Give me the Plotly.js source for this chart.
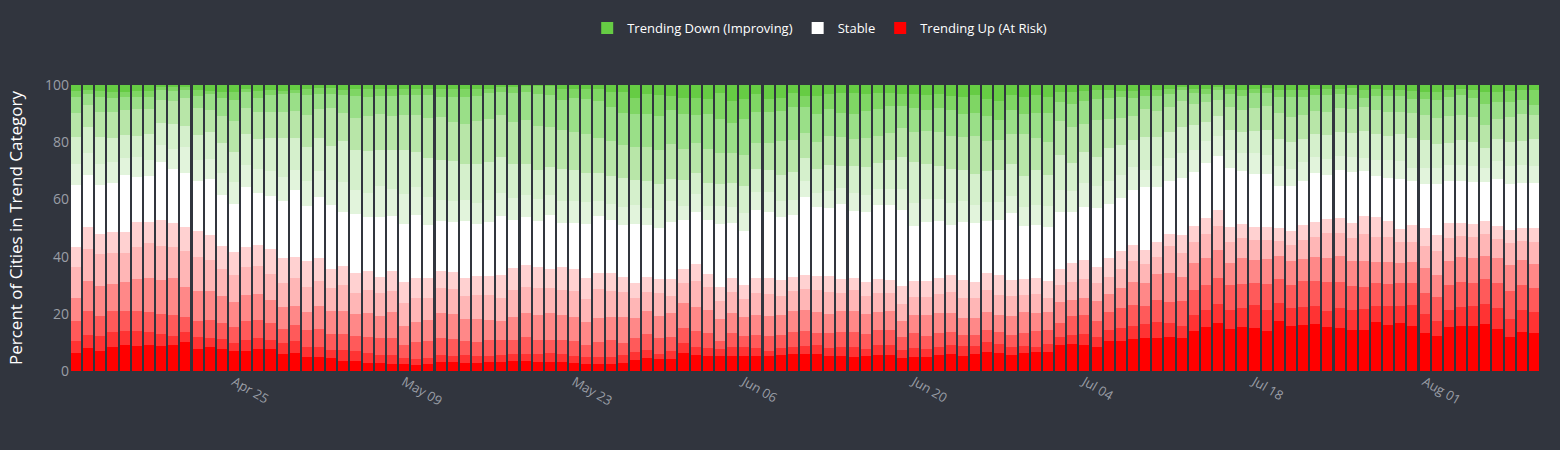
<!DOCTYPE html>
<html>
<head>
<meta charset="utf-8">
<script src="https://cdn.plot.ly/plotly-3.0.1.min.js"></script>
<style>html,body{margin:0;padding:0;background:#31353e;}#chart{width:1560px;height:450px;}</style>
</head>
<body>
<div id="chart"></div>
<script>
// Daily bars, first day and count
const startDate = '2021-04-12';
const dayCount = 121;

// Cumulative percent at the top of each band, bottom to top
const topUp1 = [6.3,8.1,7,8.4,9.1,8.8,9.1,8.8,9.1,10.2, 7.7,8.4,7.7,7,7,7.7,7.7,6,6.3,4.9, 4.9,4.6,3.5,3.5,2.8,2.8,2.5,2.5,2.1,2.5, 3.2,3.2,2.8,2.8,3.2,3.2,3.5,3.5,3.2,3.2, 3.2,2.8,2.5,2.5,2.5,2.8,3.9,4.6,4.2,4.2, 6.3,5.6,5.3,5.3,5.3,5.3,5.3,5.3,5.6,6, 6,6,5.3,5.3,4.9,5.3,5.6,5.6,4.6,4.9, 4.9,5.6,6,5.3,6,6.7,6.3,5.6,6.3,6.7, 6.7,9.1,9.5,9.1,8.4,10.5,10.5,11.2,11.6,11.6, 11.9,11.6,14,15.4,16.8,14.7,15.4,15.1,14,17.5, 15.8,16.1,16.5,15.4,15.1,14.4,14.4,17.2,16.1,16.8, 15.8,13.3,12.3,15.4,15.8,15.8,16.5,14.7,11.9,13.7,13.3];
const topUp2 = [10.5,12.6,12.3,13.7,14,14,13.7,13,12.3,13.7, 11.9,11.6,11.2,9.8,10.9,11.6,10.9,9.8,10.5,8.4, 8.4,7.4,7.4,7,6.3,5.6,5.6,4.6,4.2,4.6, 5.6,5.3,5.6,5.3,5.3,5.6,6,6,6,6.3, 6,5.3,4.9,4.9,4.9,5.6,6.7,7.4,6,7, 9.8,8.4,8.1,7.7,8.4,8.4,8.1,7,8.1,8.4, 8.8,9.1,8.1,8.4,8.4,7.7,9.1,9.1,7.4,8.1, 7.7,8.4,9.1,8.8,8.8,10.2,9.5,8.4,8.8,8.4, 9.5,11.9,12.6,13,11.9,14.4,15.1,15.8,16.5,17.2, 16.8,15.8,19.6,21.4,23.5,21.4,22.1,23.1,21.4,23.8, 22.1,22.4,22.8,21,22.1,21.4,21.7,22.8,22.8,22.8, 23.1,20,17.5,21.4,22.4,22.8,23.5,22.1,18.2,21.4,20.7];
const topUp3 = [17.5,21,19.3,21,21,21,20.7,20,19.6,18.9, 17.5,17.9,16.8,15.4,17.5,17.9,16.8,14.7,16.1,14.4, 14.7,13,13,12.3,11.9,11.6,11.6,9.1,10.2,10.5, 11.6,11.2,10.5,10.2,10.9,10.9,10.9,11.9,10.9,10.9, 10.9,10.5,9.1,10.2,10.9,9.8,11.6,13,11.6,11.9, 15.1,14,13.3,10.5,13.3,12.3,12.6,12.3,12.6,13.7, 14,13.3,13.3,13.7,13.7,13,14.4,14.4,11.9,13.3, 12.3,13.3,13.7,12.6,12.6,14.4,13.7,12.6,13.3,14, 14.4,16.8,19.3,19.6,17.5,20.7,22.1,23.1,22.8,24.9, 24.2,24.5,28.4,30.1,32.6,30.1,30.5,30.8,30.5,32.2, 30.1,31.5,31.5,31.2,31.2,29.8,29.4,30.8,30.5,30.8, 30.8,27.3,25.9,30.1,31.2,30.8,32.2,30.8,28,30.1,29.1];
const topUp4 = [25.6,31.5,29.8,30.5,31.2,32.2,32.6,31.9,32.6,29.4, 28,28,26.3,24.2,26.6,27,24.9,22.4,22.8,20.7, 22.8,21,21,20,20.3,19.3,20.7,15.8,17.2,17.9, 20.3,20,18.2,18.2,17.9,17.5,18.9,20.3,19.6,20.3, 19.6,18.9,17.2,18.6,18.9,18.9,18.6,21,19.3,20.3, 23.8,22.4,21.4,18.2,20.3,18.9,19.6,19.3,19.6,21, 21.4,20.7,20,21,21,20,20.7,21,17.5,19.6, 19.6,20.3,20.3,18.6,18.6,20.7,19.6,19.3,20.7,20.3, 20.7,24.2,24.9,25.6,24.5,27,29.1,31.2,30.8,34, 34.3,32.9,37.8,39.6,42.4,37.8,39.6,38.9,39.2,40.3, 38.5,39.2,39.9,39.6,40.3,38.5,38.5,38.2,38.2,37.8, 38.2,36.1,33.6,38.5,39.9,39.6,40.3,39.6,37.1,38.9,37.5];
const topUp5 = [36.4,42.7,41,41.3,41.3,43.4,44.8,43.8,43.4,42, 39.9,38.9,35.7,33.6,36.4,36.8,34,30.8,32.6,29.4, 31.5,29.1,30.1,27.3,28.4,27.3,28,23.8,25.6,25.6, 29.1,28.7,26.3,26.6,26.6,25.6,28.4,29.4,29.1,29.1, 28.4,28,25.2,28.7,28,27.7,25.6,27.7,27.3,26.3, 30.8,31.5,29.4,24.5,27.7,25.2,27.3,27,26.3,28, 28.7,28.4,27.7,27.3,28.4,26.3,27.3,27.3,23.5,25.9, 25.9,27,27.7,25.6,25.6,28.4,26.6,26.3,26.6,27, 25.6,30.1,31.2,32.2,30.8,32.9,35.7,38.5,37.5,39.9, 43.8,41.3,45.2,48,50.8,45.2,46.6,45.9,45.9,45.5, 44.1,45.9,46.9,48.3,48.3,46.6,48,46.9,46.9,45.2, 45.2,43.8,42,46.6,47.3,46.9,48,46.2,44.8,45.5,45.2];
const topUp6 = [43.4,50.4,48,48.7,48.7,52.2,52.2,52.9,51.8,50.4, 49,47.6,43.8,41.7,43.4,44.1,42.7,39.6,39.9,38.5, 39.6,35.7,36.8,34.3,35,32.9,35,31.2,32.6,32.6, 35,34.7,32.6,33.3,33.3,33.6,36.1,37.1,36.4,35.7, 36.4,35.7,32.6,34.3,34.3,32.9,30.8,32.9,32.2,32.2, 35.7,37.5,34,29.4,32.6,30.1,32.6,32.6,31.9,32.9, 33.6,33.3,33.3,32.2,32.6,31.2,32.2,31.9,29.8,31.5, 31.5,32.6,33.6,31.9,31.2,34.3,33.6,31.9,32.2,32.6, 31.5,35.7,37.8,38.9,36.4,39.6,42,44.1,42.4,45.2, 48,47.6,50.8,53.6,56.4,50.4,51.5,50.4,50.4,50.1, 49,51.1,52.2,53.2,53.6,51.8,54.3,53.9,52.5,49.7, 51.1,50.1,47.6,51.8,51.8,51.5,52.5,50.8,49.4,50.1,50.1];
const topStable = [65.1,68.6,65.1,65.8,68.6,67.9,68.3,73.2,70.7,69.3, 66.5,67.2,61.6,58.5,64.4,62.3,61.3,59.5,63.4,57.8, 60.9,58.1,55.7,55,53.9,53.9,54.3,51.5,54.6,51.1, 52.5,52.2,52.5,51.5,52.2,54.3,52.9,53.9,52.5,54.6, 51.8,51.8,51.5,54.3,52.9,51.1,51.5,51.1,50.1,52.2, 52.9,55.7,52.9,51.5,51.8,49,56.4,55.7,53.9,54.6, 60.9,57.4,57.1,58.5,56,55.7,58.1,58.1,56.4,50.8, 52.2,52.5,51.1,52.2,51.8,52.5,52.9,55.3,50.8,51.1, 50.4,55.7,55.7,57.4,57.1,58.5,60.6,63.4,64.4,64.4, 66.5,67.6,69.7,72.8,75.3,71.1,70,69,69,64.8, 64.8,66.5,69.3,68.6,70.4,69.7,70,68.3,67.6,67.2, 66.5,65.5,65.5,66.5,66.5,66.2,66.2,67.2,65.5,65.8,65.8];
const topDown1 = [72.5,76.3,72.5,73.2,74.6,74.9,73.9,79.1,77.7,78.4, 73.9,74.2,69.3,66.2,72.1,70.7,70,67.9,70.4,66.5, 70,66.9,66.2,63.4,62.3,64.8,63.7,62,64.4,60.9, 59.9,59.5,59.9,58.8,59.9,62.3,60.6,61.6,60.2,61.6, 59.5,59.5,59.2,59.5,58.5,57.4,58.1,57.1,56.4,59.5, 57.8,62,57.8,57.8,57.4,55.3,62.7,62.7,59.5,59.9, 66.5,62.3,63,64.1,62.3,61.6,63.7,63.7,63.7,58.8, 60.2,60.2,58.8,59.5,58.1,59.2,59.2,61.3,57.4,58.1, 57.8,63.4,63,65.8,64.8,66.5,68.6,71.4,70.4,71.8, 74.6,76.3,77.4,80.5,82.3,77.4,76.3,76.3,75.6,71.8, 70.7,73.2,74.9,74.2,75.3,74.9,74.6,73.9,73.9,73.5, 71.1,71.1,71.1,72.1,72.1,71.8,71.1,73.5,71.8,72.1,71.8];
const topDown2 = [81.9,85.4,81.9,81.6,82.6,82.3,83,86.8,86.5,85.8, 82.6,83.7,79.8,76.7,83,81.2,81.6,81.6,81.6,78.4, 81.6,78.8,80.5,77.4,77,77.4,77.4,77.4,76.7,74.6, 73.9,73.5,72.5,72.5,73.2,74.9,72.5,72.5,70.4,71.4, 70.7,70.4,69.3,69.3,68.3,67.6,66.9,66.5,65.5,67.2, 66.9,69.3,65.8,65.5,65.8,64.8,70.7,70.4,68.6,69.7, 74.6,70.7,72.1,71.8,71.8,71.4,72.8,73.9,74.9,73.2, 72.5,71.8,70.7,70.4,69,70,70.4,72.5,68.3,70.4, 68.6,75.6,72.8,76.7,74.9,78.1,79.1,80.9,81.9,81.9, 83.7,85.4,86.1,87.2,89.3,84.4,83.7,84,84.4,81.2, 80.2,81.2,83,82.6,83.7,83.3,84,83,82.3,83, 81.6,80.9,79.5,79.8,80.9,80.2,78.1,81.2,80.2,80.5,81.2];
const topDown3 = [90.3,93.1,90.7,90.7,91.4,91.7,91.7,94.9,94.5,95.6, 92.1,91.4,89.3,87.5,92.1,90.7,90.7,90.7,91,89.6, 91.7,92.1,90.3,88.6,89.3,90,89.3,89.6,89.6,88.6, 88.9,87.2,86.5,87.5,88.2,89.6,87.2,87.9,85.8,85.4, 84.4,83.7,83,81.6,80.5,79.1,78.4,78.4,77.4,79.5, 77.7,79.8,77.7,76.3,76.3,75.6,79.8,79.8,80.5,80.9, 83.3,80.2,82.3,81.9,81.2,81.6,82.3,83.3,85.1,83.7, 84,83.7,82.3,81.9,82.3,80.5,80.9,83,83,81.6, 80.2,87.5,85.4,86.5,87.9,88.2,88.6,89.3,91.7,91, 92.4,94.5,93.5,94.2,94.9,92.4,91.4,92.1,92.8,90.3, 88.9,89.6,91,90.7,92.1,91.7,92.4,91.4,90.7,90.7, 90.3,89.6,88.6,89.3,89.6,88.9,86.1,88.2,88.9,90,89.6];
const topDown4 = [95.9,97,95.9,95.6,95.9,95.9,95.9,98.4,98,98.4, 96.3,97,95.6,94.9,97.7,95.6,96.6,97,97.3,96.6, 97,97,96.6,96.3,95.9,96.3,96.3,96.6,96.6,96.6, 95.9,95.9,95.9,96.3,97.3,97.7,97.3,97.7,97,96.6, 94.9,95.6,95.2,94.5,92.4,90.3,90,90,89.3,91.4, 90,89.6,90,88.2,86.8,88.2,90.7,90.7,91,92.4, 92.4,90,91.7,90.3,90,91,91.7,92.8,92.8,92.1, 91.4,92.1,91.4,90,90.3,89.3,87.9,91.4,90,90.3, 90.3,94.2,93.5,94.5,95.2,95.6,95.9,95.6,96.3,96.3, 97,98.4,97.3,97,98.4,97,96.3,97.3,97.3,95.9, 95.9,95.9,96.6,96.6,97,96.6,95.6,96.3,96.3,96.3, 95.2,95.2,94.9,95.9,96.6,95.6,93.5,94.2,94.2,94.9,93.1];
const topDown5 = [98,98.4,98,97.7,97.7,98,98,99.4,99.4,99.4, 98.4,98,97.7,97.7,98.7,98,98.4,98,98.4,98.7, 99.1,99.1,98.4,98.7,98.7,98.7,98.7,98.7,98.7,98.7, 98.7,98.7,98.7,98.7,98.7,99.4,99.4,99.8,99.8,99.8, 98.7,98.7,98.7,98.7,97.7,97.7,95.6,97,96.6,96.3, 95.6,95.6,95.2,97.3,94.5,95.2,97,95.2,95.6,97.3, 96.3,96.3,97,97.3,97.3,97,97.3,97.3,97,97, 96.6,97,96.3,95.9,96.6,95.2,94.5,96.6,95.9,96.6, 95.9,97.7,97.7,98,98.4,98.4,98,98,98.4,98.4, 98.7,99.4,98.7,98.7,99.4,98.7,98.4,98.7,99.1,98.4, 98.4,98.4,98.7,98.7,98.7,99.1,98.4,98.7,98.4,98.4, 98,97.7,97.7,98.4,98.7,98.4,97.7,97.7,98,98.4,98.4];
const totalPct = 100;

const bandNames = ['Trending Up (At Risk)','Trending Up (At Risk)','Trending Up (At Risk)','Trending Up (At Risk)','Trending Up (At Risk)','Trending Up (At Risk)','Stable','Trending Down (Improving)','Trending Down (Improving)','Trending Down (Improving)','Trending Down (Improving)','Trending Down (Improving)','Trending Down (Improving)'];

const bandColors = ['#ff0000','#ff3333','#ff5a5a','#ff8888','#ffb6b6','#ffd1d1','#ffffff','#e2f4dc','#d5f0cc','#b8e6a8','#9adf88','#7fd664','#66cc44'];
const legendShown = [0, 6, 12];

// build dates
const dates = [];
const d0 = new Date(startDate + 'T00:00:00Z');
for (let i = 0; i < dayCount; i++) {
  const d = new Date(d0.getTime() + i * 86400000);
  dates.push(d.toISOString().slice(0, 10));
}

const tops = [topUp1, topUp2, topUp3, topUp4, topUp5, topUp6, topStable, topDown1, topDown2, topDown3, topDown4, topDown5, dates.map(() => totalPct)];
const groups = ['up','up','up','up','up','up','stable','down','down','down','down','down','down'];

const traces = tops.map((arr, k) => {
  const below = k === 0 ? null : tops[k - 1];
  const y = arr.map((v, i) => +(v - (below ? below[i] : 0)).toFixed(2));
  return {
    type: 'bar',
    x: dates,
    y: y,
    name: bandNames[k],
    legendgroup: groups[k],
    showlegend: legendShown.indexOf(k) >= 0,
    marker: { color: bandColors[k], line: { width: 0 } },
    hovertemplate: '%{x|%b %d}: %{y:.1f}%<extra>' + bandNames[k] + '</extra>'
  };
});

const layout = {
  width: 1560,
  height: 450,
  paper_bgcolor: '#31353e',
  plot_bgcolor: '#31353e',
  barmode: 'stack',
  bargap: 0.17,
  font: { family: '"Open Sans", "Noto Sans", sans-serif', color: '#ffffff' },
  margin: { l: 70, r: 20, t: 85, b: 79 },
  showlegend: true,
  legend: {
    orientation: 'h',
    x: 0.51, xanchor: 'center', xref: 'paper',
    y: 1 - 28 / 450, yanchor: 'middle', yref: 'container',
    traceorder: 'reversed',
    font: { size: 13, color: '#ffffff' },
    bgcolor: 'rgba(0,0,0,0)'
  },
  xaxis: {
    type: 'date',
    tickformat: '%b %d',
    tick0: '2021-04-25',
    dtick: 14 * 86400000,
    tickangle: 30,
    showgrid: false,
    zeroline: false,
    showline: false,
    ticks: '',
    tickfont: { size: 13, color: '#9a9ea6' }
  },
  yaxis: {
    range: [0, 100],
    tickvals: [0, 20, 40, 60, 80, 100],
    showgrid: false,
    zeroline: false,
    showline: false,
    ticks: '',
    tickfont: { size: 14, color: '#9a9ea6' },
    title: { text: 'Percent of Cities in Trend Category', font: { size: 17, color: '#ffffff' }, standoff: 18 }
  }
};

Plotly.newPlot('chart', traces, layout, { displayModeBar: false, responsive: false });
</script>
</body>
</html>
